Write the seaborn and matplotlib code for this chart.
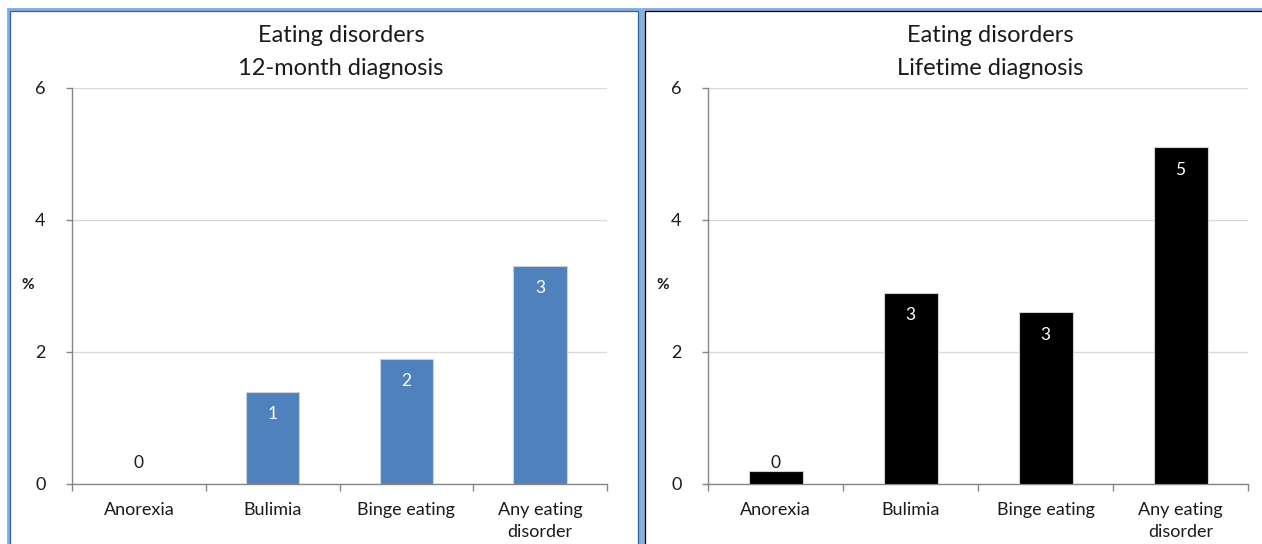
import matplotlib
matplotlib.use("Agg")
import matplotlib.pyplot as plt
from matplotlib.patches import Rectangle
from matplotlib.ticker import FixedLocator, NullFormatter
import seaborn as sns
import pandas as pd

# Prevalence of eating disorders (%)
categories = ["Anorexia", "Bulimia", "Binge eating", "Any eating\ndisorder"]
twelve_month = [0.0, 1.4, 1.9, 3.3]
lifetime = [0.2, 2.9, 2.6, 5.1]
y_ticks = [0, 2, 4, 6]

panel_titles = ["Eating disorders\n12-month diagnosis", "Eating disorders\nLifetime diagnosis"]
bar_colors = ["#4f81bd", "#000000"]

sns.set_theme(style="white")
plt.rcParams["font.family"] = ["Lato", "DejaVu Sans"]

W, H = 1262, 544
fig = plt.figure(figsize=(W / 100, H / 100), dpi=100)


def px_box(x0, y0, x1, y1):
    """Pixel box (top-left origin) -> figure fraction [left, bottom, width, height]."""
    return [x0 / W, 1 - y1 / H, (x1 - x0) / W, (y1 - y0) / H]


axes_boxes = [px_box(72, 88, 607, 484), px_box(708, 88, 1248, 484)]
title_centers = [341, 990]
pct_x = [28, 663]

for box, title, tcx, px, values, color in zip(axes_boxes, panel_titles, title_centers, pct_x,
                                               [twelve_month, lifetime], bar_colors):
    ax = fig.add_axes(box)
    df = pd.DataFrame({"category": categories, "value": values})
    sns.barplot(data=df, x="category", y="value", color=color, width=0.4,
                edgecolor="#d0d0d0", linewidth=0.8, saturation=1, ax=ax, zorder=3)
    ax.set_ylim(0, 6)
    ax.set_xlim(-0.5, len(categories) - 0.5)
    ax.yaxis.set_major_locator(FixedLocator(y_ticks))
    ax.grid(axis="y", color="#d9d9d9", linewidth=1, zorder=0)
    ax.set_axisbelow(True)

    for side in ["top", "right"]:
        ax.spines[side].set_visible(False)
    for side in ["left", "bottom"]:
        ax.spines[side].set_color("#868686")
        ax.spines[side].set_linewidth(1)

    ax.tick_params(axis="y", which="major", direction="out", length=4, width=1,
                   color="#868686", left=True, pad=15, labelsize=13, labelcolor="#1a1a1a")
    ax.tick_params(axis="x", which="major", length=0, pad=13, labelsize=13,
                   labelcolor="#1a1a1a")
    ax.xaxis.set_minor_locator(FixedLocator([i - 0.5 for i in range(len(categories) + 1)]))
    ax.xaxis.set_minor_formatter(NullFormatter())
    ax.tick_params(axis="x", which="minor", direction="out", length=5, width=1,
                   color="#868686", bottom=True)
    for lbl in ax.get_xticklabels():
        lbl.set_linespacing(1.45)
        lbl.set_verticalalignment("top")

    ax.set_xlabel("")
    ax.set_ylabel("")
    fig.text(px / W, 1 - 285 / H, "%", ha="center", va="center", fontsize=11,
             fontweight="bold", color="#1a1a1a")

    # Rounded value labels: white inside the bar top, black above very short bars
    for i, v in enumerate(values):
        text = f"{v:.0f}"
        if v < 0.5:
            ax.annotate(text, xy=(i, v), xytext=(0, 9 if v == 0 else 0),
                        textcoords="offset points", ha="center", va="bottom",
                        fontsize=12.5, color="#1a1a1a", zorder=5)
        else:
            ax.annotate(text, xy=(i, v), xytext=(0, -16),
                        textcoords="offset points", ha="center", va="center",
                        fontsize=12.5, color="white", zorder=5)

    fig.text(tcx / W, 1 - 52 / H, title, ha="center", va="center", fontsize=17,
             linespacing=1.65, color="#1a1a1a")

# Panel frames
frames = [
    ((8, 9, 640, 560), "#7eaadf", "#2f5f98"),
    ((643, 9, 1270, 560), "#7eaadf", "#000000"),
]
for (x0, y0, x1, y1), outer, inner in frames:
    fig.add_artist(Rectangle((x0 / W, 1 - y1 / H), (x1 - x0) / W, (y1 - y0) / H,
                             transform=fig.transFigure, fill=False,
                             edgecolor=outer, linewidth=2.0))
    fig.add_artist(Rectangle(((x0 + 2) / W, 1 - y1 / H), (x1 - x0 - 4) / W, (y1 - y0 - 2) / H,
                             transform=fig.transFigure, fill=False,
                             edgecolor=inner, linewidth=0.9))

fig.savefig("out.png", dpi=100)
